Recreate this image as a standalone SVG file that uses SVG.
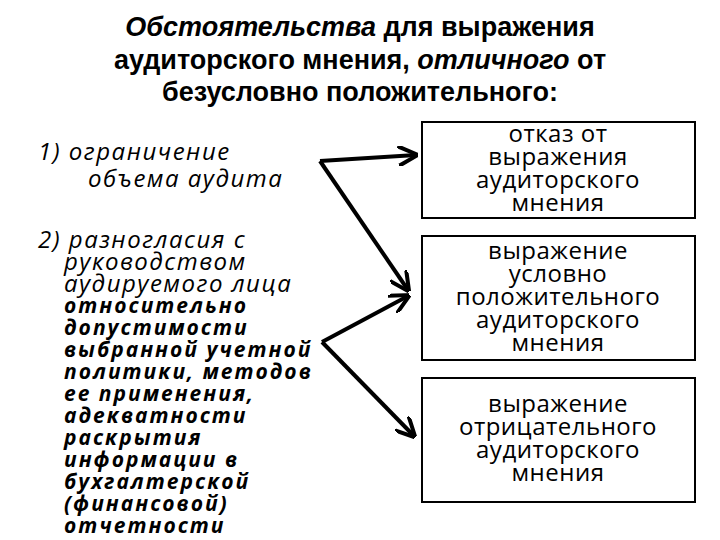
<svg xmlns="http://www.w3.org/2000/svg" width="720" height="540" viewBox="0 0 720 540">
<style>
text{font-family:"Open Sans","Liberation Sans",sans-serif;fill:#000}
.t{font-family:"Liberation Sans",sans-serif;font-size:27px;font-weight:bold;text-anchor:middle}
.b{font-size:24px;text-anchor:middle;letter-spacing:0.5px}
.l{font-size:24px;font-style:italic;letter-spacing:1.5px}
.lb{font-size:21px;font-style:italic;font-weight:bold;letter-spacing:2px}
rect{fill:#fff;stroke:#000;stroke-width:2}
.c line{stroke:#000;stroke-width:4}
</style>
<defs><marker id="a" viewBox="0 0 10 10" refX="9" refY="5" markerWidth="5" markerHeight="5" orient="auto" markerUnits="strokeWidth"><path d="M0,0 L10,5 L0,10" fill="none" stroke="#000" stroke-width="2"/></marker></defs>
<g id="title">
<text class="t" x="360" y="36"><tspan font-style="italic">Обстоятельства</tspan> для выражения</text>
<text class="t" x="360" y="69">аудиторского мнения, <tspan font-style="italic">отличного</tspan> от</text>
<text class="t" x="360" y="101">безусловно положительного:</text>
</g>
<g id="left1"><text class="l" x="38" y="160">1)  ограничение</text><text class="l" x="88" y="187">объема аудита</text></g>
<g id="left2">
<text class="l" x="38" y="248">2) разногласия с</text>
<text class="l" x="64" y="270">руководством</text>
<text class="l" x="64" y="292">аудируемого лица</text>
<text class="lb" x="64" y="313">относительно</text>
<text class="lb" x="64" y="335">допустимости</text>
<text class="lb" x="64" y="357">выбранной учетной</text>
<text class="lb" x="64" y="379">политики, методов</text>
<text class="lb" x="64" y="401">ее применения,</text>
<text class="lb" x="64" y="423">адекватности</text>
<text class="lb" x="64" y="445">раскрытия</text>
<text class="lb" x="64" y="467">информации в</text>
<text class="lb" x="64" y="489">бухгалтерской</text>
<text class="lb" x="64" y="511">(финансовой)</text>
<text class="lb" x="64" y="533">отчетности</text>
</g>
<g id="box1"><rect x="422" y="122" width="273" height="96"/>
<text class="b" x="558" y="142">отказ от</text><text class="b" x="558" y="165">выражения</text><text class="b" x="558" y="188">аудиторского</text><text class="b" x="558" y="211">мнения</text></g>
<g id="box2"><rect x="422" y="236" width="273" height="124"/>
<text class="b" x="558" y="259">выражение</text><text class="b" x="558" y="282">условно</text><text class="b" x="558" y="305">положительного</text><text class="b" x="558" y="328">аудиторского</text><text class="b" x="558" y="351">мнения</text></g>
<g id="box3"><rect x="422" y="378" width="273" height="124"/>
<text class="b" x="558" y="412">выражение</text><text class="b" x="558" y="435">отрицательного</text><text class="b" x="558" y="458">аудиторского</text><text class="b" x="558" y="481">мнения</text></g>
<g class="c">
<line x1="320" y1="161" x2="416" y2="155" marker-end="url(#a)"/>
<line x1="320" y1="161" x2="408" y2="290" marker-end="url(#a)"/>
<line x1="322" y1="342" x2="408" y2="296" marker-end="url(#a)"/>
<line x1="322" y1="342" x2="414" y2="436" marker-end="url(#a)"/>
</g>
</svg>
